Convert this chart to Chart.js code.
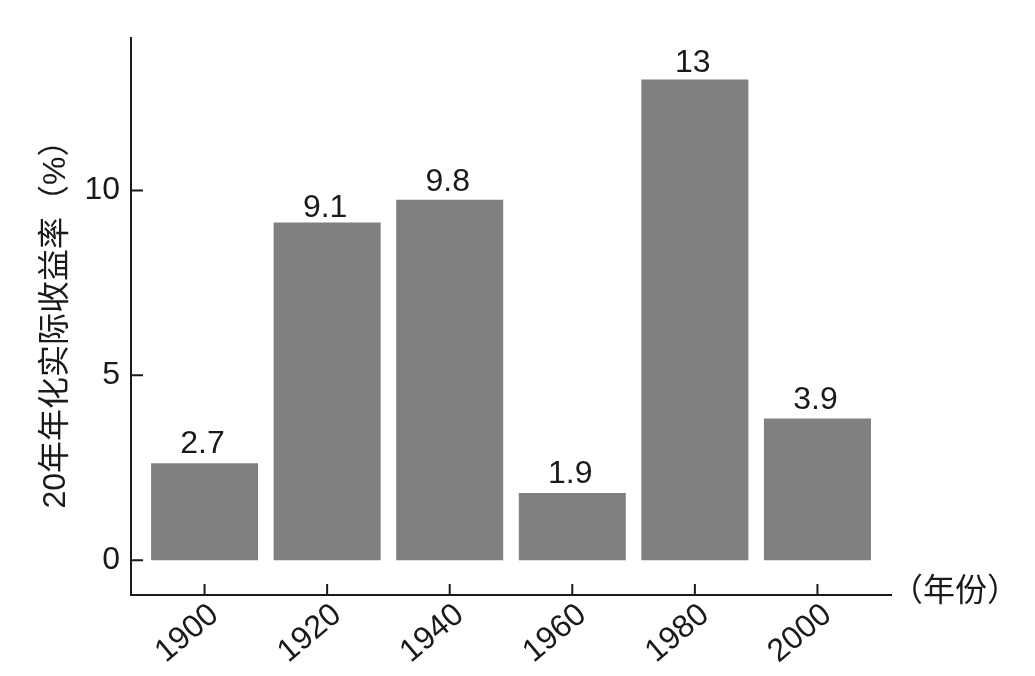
<!DOCTYPE html>
<html>
<head>
<meta charset="utf-8">
<script src="https://cdn.jsdelivr.net/npm/chart.js@4.4.0/dist/chart.umd.min.js"></script>
<style>
  html, body { margin: 0; padding: 0; background: #fff; }
  #wrap { width: 1035px; height: 676px; }
</style>
</head>
<body>
<div id="wrap"><canvas id="returnsChart" width="1035" height="676"></canvas></div>
<script>
const years = [1900, 1920, 1940, 1960, 1980, 2000];
// bar heights
const realReturns = [2.62, 9.13, 9.75, 1.82, 13.0, 3.83];
// printed labels (rounded)
const returnLabels = [2.7, 9.1, 9.8, 1.9, 13, 3.9];
const yTicks = [0, 5, 10];
const yTitle = '20年年化实际收益率（%）';
const xTitle = '（年份）';

const FONT = "'Liberation Sans', 'Noto Sans CJK SC', sans-serif";
const INK = '#1a1a1a';
const SIZE = 32;

// numbers above bars
const valueLabels = {
    id: 'valueLabels',
    afterDatasetsDraw(chart) {
        const ctx = chart.ctx;
        const y = chart.scales.y;
        const bars = chart.getDatasetMeta(0).data;
        ctx.save();
        ctx.font = SIZE + 'px ' + FONT;
        ctx.fillStyle = INK;
        ctx.textAlign = 'center';
        ctx.textBaseline = 'alphabetic';
        bars.forEach((bar, i) => {
            ctx.fillText(String(returnLabels[i]), bar.x - 2, y.getPixelForValue(returnLabels[i]) - 7);
        });
        ctx.restore();
    }
};

// inward tick marks + x axis title at the right end
const axisExtras = {
    id: 'axisExtras',
    afterDraw(chart) {
        const ctx = chart.ctx;
        const area = chart.chartArea;
        const x = chart.scales.x;
        const y = chart.scales.y;
        ctx.save();
        ctx.strokeStyle = INK;
        ctx.lineWidth = 2;
        ctx.beginPath();
        yTicks.forEach(v => {
            const py = y.getPixelForValue(v);
            ctx.moveTo(area.left, py);
            ctx.lineTo(area.left + 12, py);
        });
        years.forEach(v => {
            const px = x.getPixelForValue(v);
            ctx.moveTo(px, area.bottom);
            ctx.lineTo(px, area.bottom - 11);
        });
        ctx.stroke();

        ctx.font = SIZE + 'px ' + FONT;
        ctx.fillStyle = INK;
        ctx.textAlign = 'left';
        ctx.textBaseline = 'middle';
        ctx.fillText(xTitle, area.right, area.bottom - 3);
        ctx.restore();
    }
};

const ctx = document.getElementById('returnsChart').getContext('2d');

new Chart(ctx, {
    type: 'bar',
    data: {
        datasets: [{
            data: years.map((yr, i) => ({ x: yr, y: realReturns[i] })),
            backgroundColor: '#808080',
            borderWidth: 0,
            categoryPercentage: 1,
            barPercentage: 0.873
        }]
    },
    options: {
        responsive: false,
        animation: false,
        devicePixelRatio: 1,
        layout: { padding: { top: 38, right: 144, left: 0, bottom: 0 } },
        plugins: {
            legend: { display: false },
            tooltip: { enabled: false }
        },
        scales: {
            x: {
                type: 'linear',
                offset: false,
                min: 1888,
                max: 2012,
                afterBuildTicks: s => { s.ticks = years.map(v => ({ value: v })); },
                afterFit: s => { s.height = 81; },
                grid: { display: false, drawTicks: false },
                border: { display: true, color: INK, width: 2 },
                ticks: {
                    font: { size: SIZE, family: FONT },
                    color: INK,
                    minRotation: 40,
                    maxRotation: 40,
                    padding: 1,
                    labelOffset: 10,
                    callback: v => String(v)
                }
            },
            y: {
                min: -0.94,
                max: 14.12,
                afterBuildTicks: s => { s.ticks = yTicks.map(v => ({ value: v })); },
                afterFit: s => { s.width = 131; },
                grid: { display: false, drawTicks: false },
                border: { display: true, color: INK, width: 2 },
                ticks: {
                    font: { size: SIZE, family: FONT },
                    color: INK,
                    padding: 11,
                    callback: v => String(v)
                },
                title: {
                    display: true,
                    text: yTitle,
                    font: { size: SIZE, family: FONT },
                    color: INK,
                    padding: { top: 37, bottom: 0 }
                }
            }
        }
    },
    plugins: [valueLabels, axisExtras]
});
</script>
</body>
</html>
